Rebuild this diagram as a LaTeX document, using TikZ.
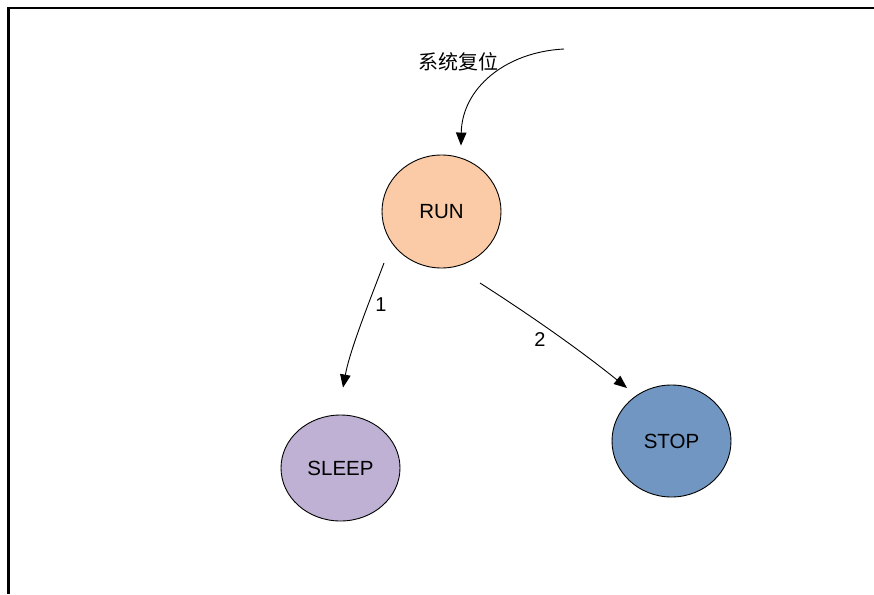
\documentclass[tikz,border=0pt]{standalone}
\usepackage{fontspec}
\setmainfont{Liberation Sans}
\newfontfamily\cjk{Noto Sans CJK SC}
\usetikzlibrary{arrows.meta,shapes.geometric,calc}
\definecolor{runc}{HTML}{FACBA6}
\definecolor{sleepc}{HTML}{BFB1D3}
\definecolor{stopc}{HTML}{7196C1}
\begin{document}
\begin{tikzpicture}[x=1pt,y=-1pt,
  state/.style={ellipse,draw,line width=0.9pt,inner sep=0pt,minimum width=119pt,font=\fontsize{20.5}{24}\selectfont},
  arr/.style={line width=0.9pt,-{Triangle[length=13pt,width=10.5pt]}},
  lbl/.style={font=\fontsize{20}{24}\selectfont,inner sep=0pt},
  frame/.style={line width=2.2pt}]
\useasboundingbox (0,0) rectangle (874,594);
\coordinate (fa) at (8.5,594);
\coordinate (fb) at (8.5,8);
\coordinate (fc) at (874,8);
\draw[frame] (fa) -- (fb) -- (fc);

\node[state,fill=runc,minimum height=113pt] (run) at (441.5,211.5) {RUN};
\node[state,fill=sleepc,minimum height=106pt] (sleep) at (340.5,468) {SLEEP};
\node[state,fill=stopc,minimum height=112pt] (stop) at (671.5,441) {STOP};

\coordinate (rs) at (564,49);
\draw[arr] (rs) .. controls +(-59,3) and +(1,-57) .. ($(run.north)+(19.5,-9)$);
\node[lbl,font=\cjk\fontsize{20}{24}\selectfont] (reset) at (458,62) {系统复位};

\draw[arr] ($(run)+(-57.5,51.5)$) .. controls +(-14,37) and +(7,-38) .. ($(sleep.north)+(2.5,-27)$);
\draw[arr] ($(run)+(38.5,71.5)$) .. controls +(50,32) and +(-47,-38) .. ($(stop)+(-44.5,-53)$);
\node[lbl] (l1) at (381,305) {1};
\node[lbl] (l2) at (540,340) {2};
\end{tikzpicture}
\end{document}
